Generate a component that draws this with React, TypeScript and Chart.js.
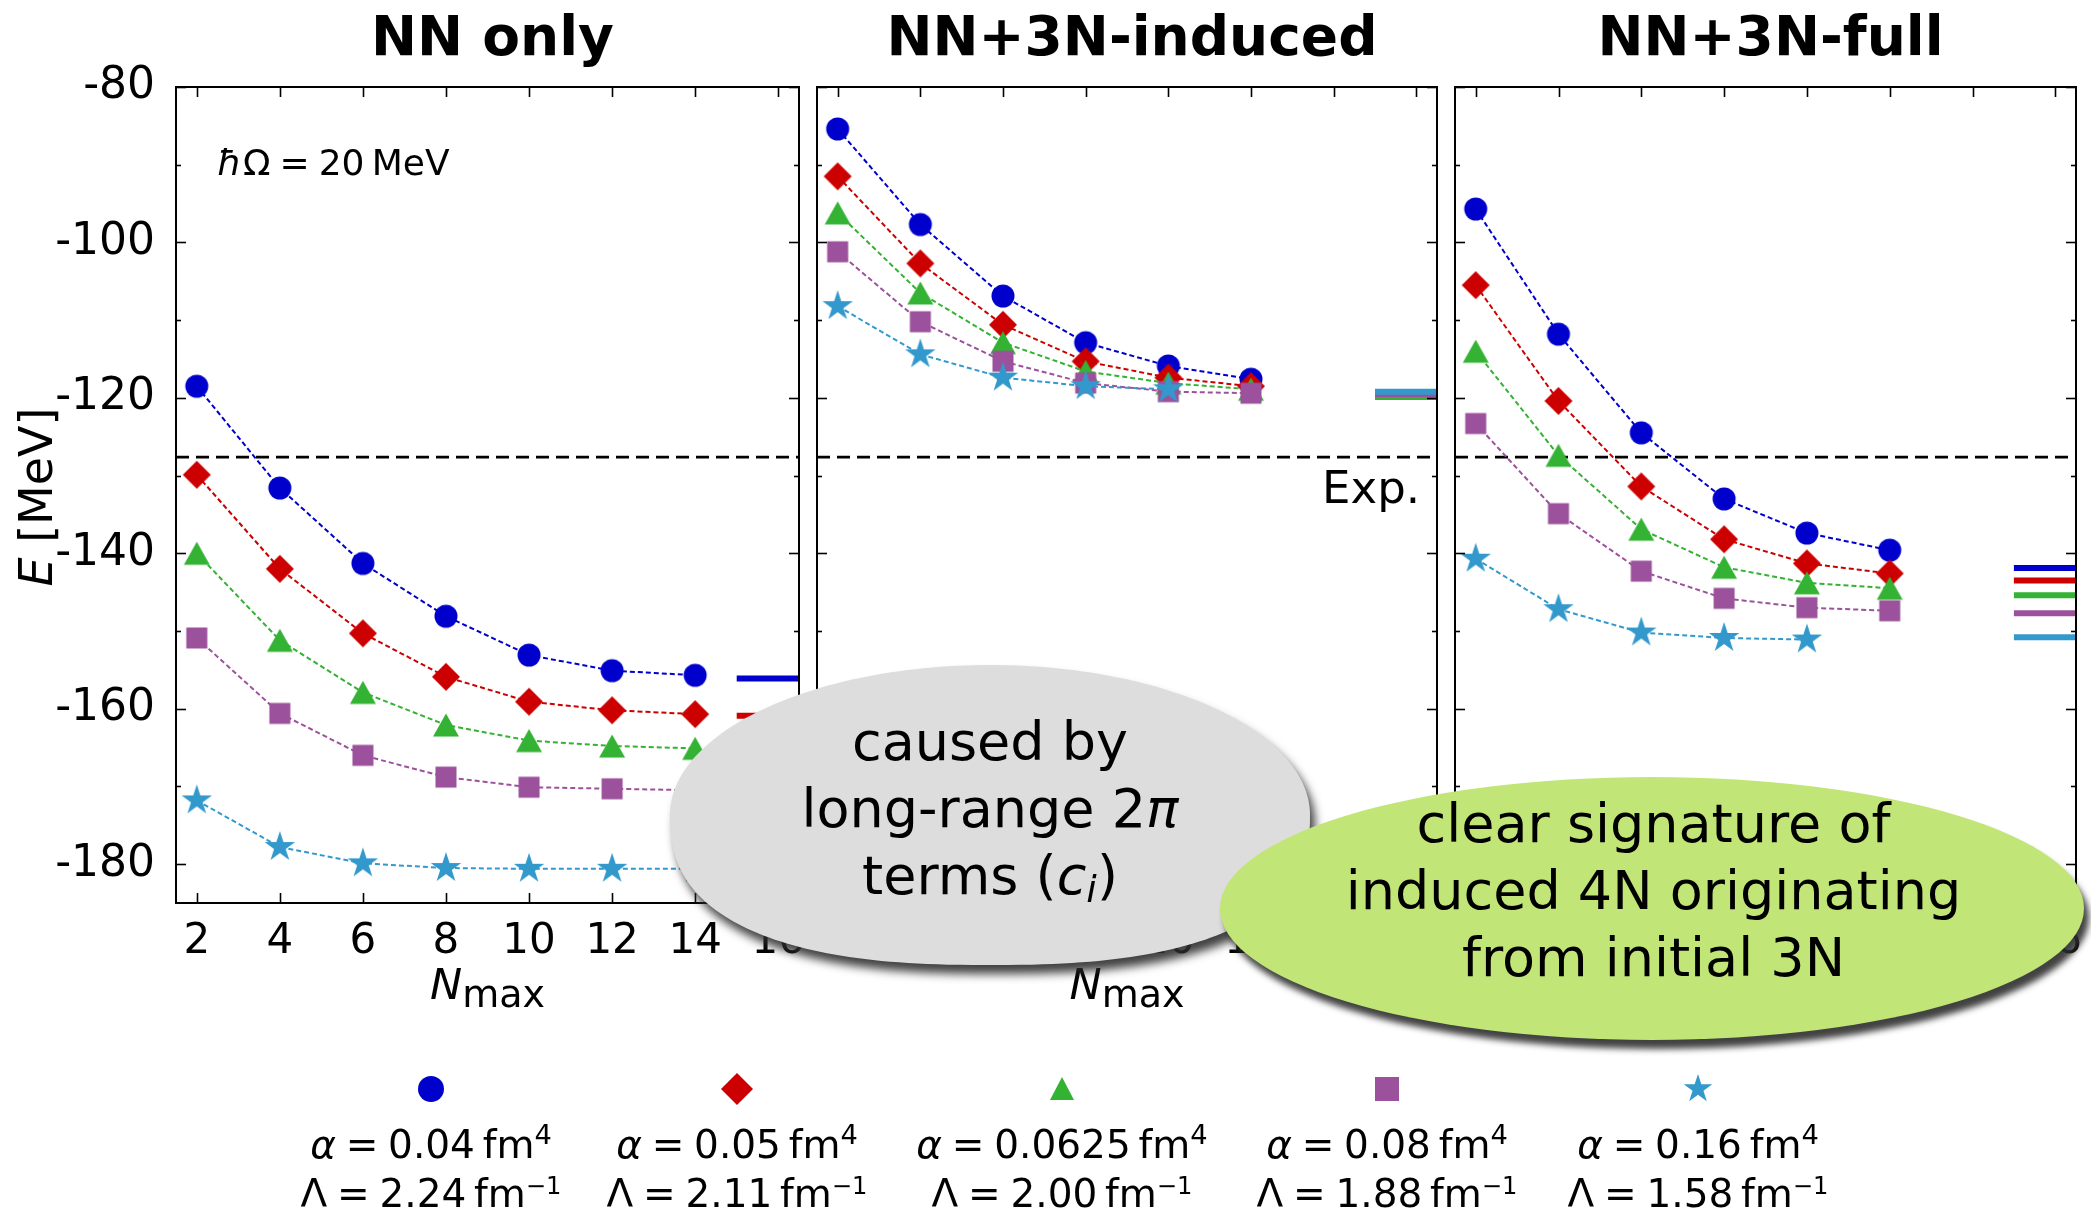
import React, { useEffect, useRef } from 'react';
import { Chart, registerables } from 'chart.js';

Chart.register(...registerables);

const FONT = '"DejaVu Sans", "Liberation Sans", sans-serif';

// ---------------- data ----------------
const nmaxNN = [2, 4, 6, 8, 10, 12, 14];
const nmax3N = [2, 4, 6, 8, 10, 12];
const nmaxStar3N = [2, 4, 6, 8, 10];

const xTicks = [2, 4, 6, 8, 10, 12, 14, 16];
const yTicks = [-180, -160, -140, -120, -100, -80];
const yMinorTicks = [-170, -150, -130, -110, -90];

const expEnergy = -127.62;

// NN only
const nnA004 = [-118.5, -131.6, -141.3, -148.1, -153.1, -155.1, -155.7];
const nnA005 = [-129.9, -142.0, -150.3, -155.9, -159.1, -160.2, -160.7];
const nnA00625 = [-140.0, -151.2, -157.9, -162.1, -164.1, -164.8, -165.1];
const nnA008 = [-150.9, -160.6, -166.0, -168.8, -170.1, -170.3, -170.5];
const nnA016 = [-171.8, -177.8, -179.9, -180.5, -180.6, -180.6, -180.6];
const nnExact = [-156.1, -160.9, -165.4, -170.7, -180.8];

// NN+3N-induced
const indA004 = [-85.4, -97.7, -106.9, -112.9, -115.9, -117.6];
const indA005 = [-91.5, -102.7, -110.6, -115.3, -117.4, -118.5];
const indA00625 = [-96.2, -106.5, -112.9, -116.6, -118.1, -118.9];
const indA008 = [-101.2, -110.2, -115.3, -118.1, -119.2, -119.4];
const indA016 = [-108.2, -114.4, -117.4, -118.5, -118.9];
const indExact = [-119.7, -119.8, -119.9, -119.5, -119.2];

// NN+3N-full
const fullA004 = [-95.7, -111.8, -124.5, -133.0, -137.4, -139.6];
const fullA005 = [-105.5, -120.4, -131.4, -138.2, -141.3, -142.6];
const fullA00625 = [-114.0, -127.4, -136.9, -141.8, -143.8, -144.5];
const fullA008 = [-123.3, -134.9, -142.3, -145.8, -147.0, -147.4];
const fullA016 = [-140.7, -147.2, -150.2, -150.9, -151.1];
const fullExact = [-141.9, -143.5, -145.4, -147.7, -150.8];

const exactRange = [15, 16.5];

const alphaLabels = ['0.04', '0.05', '0.0625', '0.08', '0.16'];
const lambdaLabels = ['2.24', '2.11', '2.00', '1.88', '1.58'];

// ---------------- styles ----------------
const COLORS = ['#0000CC', '#CC0000', '#33B233', '#9B519B', '#3399CC'];
const MARKERS = ['circle', 'diamond', 'triangle', 'square', 'star'];

const PANEL_TOP = 87;
const PANEL_BOTTOM = 903;
const CANVAS_H = 1040;
const X_AXIS_H = 110;

type PanelSpec = {
  title: string;
  left: number;
  right: number;
  xs: number[][];
  series: number[][];
  exact: number[];
  first: boolean;
  showExpLabel: boolean;
};

const PANELS: PanelSpec[] = [
  {
    title: 'NN only', left: 176, right: 803,
    xs: [nmaxNN, nmaxNN, nmaxNN, nmaxNN, nmaxNN],
    series: [nnA004, nnA005, nnA00625, nnA008, nnA016],
    exact: nnExact, first: true, showExpLabel: false,
  },
  {
    title: 'NN+3N-induced', left: 815, right: 1441,
    xs: [nmax3N, nmax3N, nmax3N, nmax3N, nmaxStar3N],
    series: [indA004, indA005, indA00625, indA008, indA016],
    exact: indExact, first: false, showExpLabel: true,
  },
  {
    title: 'NN+3N-full', left: 1453, right: 2080,
    xs: [nmax3N, nmax3N, nmax3N, nmax3N, nmaxStar3N],
    series: [fullA004, fullA005, fullA00625, fullA008, fullA016],
    exact: fullExact, first: false, showExpLabel: false,
  },
];

function makeMarker(kind: string, color: string): HTMLCanvasElement {
  const size = 36;
  const c = document.createElement('canvas');
  c.width = size;
  c.height = size;
  const ctx = c.getContext('2d')!;
  const cx = size / 2;
  const cy = size / 2;
  ctx.fillStyle = color;
  ctx.beginPath();
  if (kind === 'circle') {
    ctx.arc(cx, cy, 11.5, 0, Math.PI * 2);
  } else if (kind === 'diamond') {
    const r = 14;
    ctx.moveTo(cx, cy - r);
    ctx.lineTo(cx + r, cy);
    ctx.lineTo(cx, cy + r);
    ctx.lineTo(cx - r, cy);
  } else if (kind === 'triangle') {
    const w = 13;
    const h = 11.5;
    ctx.moveTo(cx, cy - h);
    ctx.lineTo(cx + w, cy + h);
    ctx.lineTo(cx - w, cy + h);
  } else if (kind === 'square') {
    const h = 10.5;
    ctx.rect(cx - h, cy - h, 2 * h, 2 * h);
  } else {
    const R = 16;
    const r = R * 0.382;
    for (let i = 0; i < 10; i++) {
      const a = -Math.PI / 2 + (i * Math.PI) / 5;
      const rr = i % 2 === 0 ? R : r;
      const px = cx + rr * Math.cos(a);
      const py = cy + rr * Math.sin(a);
      if (i === 0) ctx.moveTo(px, py);
      else ctx.lineTo(px, py);
    }
  }
  ctx.closePath();
  ctx.fill();
  return c;
}

function font(size: number, italic = false, bold = false) {
  return `${italic ? 'italic ' : ''}${bold ? 'bold ' : ''}${size}px ${FONT}`;
}

function makePanelPlugin(spec: PanelSpec) {
  return {
    id: 'panelDecor',
    afterDraw(chart: any) {
      const { ctx, chartArea: a } = chart;
      const xs = chart.scales.x;
      const ys = chart.scales.y;
      ctx.save();
      ctx.strokeStyle = '#000';
      ctx.fillStyle = '#000';
      ctx.lineWidth = 1.6;
      const line = (x1: number, y1: number, x2: number, y2: number) => {
        ctx.beginPath();
        ctx.moveTo(x1, y1);
        ctx.lineTo(x2, y2);
        ctx.stroke();
      };
      xTicks.forEach((v) => {
        const px = Math.round(xs.getPixelForValue(v)) + 0.5;
        line(px, a.bottom, px, a.bottom - 10);
        line(px, a.top, px, a.top + 10);
      });
      yTicks.forEach((v) => {
        const py = Math.round(ys.getPixelForValue(v)) + 0.5;
        line(a.left, py, a.left + 10, py);
        line(a.right, py, a.right - 10, py);
      });
      yMinorTicks.forEach((v) => {
        const py = Math.round(ys.getPixelForValue(v)) + 0.5;
        line(a.left, py, a.left + 5, py);
        line(a.right, py, a.right - 5, py);
      });
      ctx.lineWidth = 2;
      ctx.strokeRect(a.left, a.top, a.right - a.left, a.bottom - a.top);

      const cx = (a.left + a.right) / 2;
      ctx.textAlign = 'center';
      ctx.textBaseline = 'alphabetic';
      ctx.font = font(55, false, true);
      ctx.fillText(spec.title, cx + 5, 55);

      // N_max label
      ctx.textAlign = 'left';
      ctx.font = font(43, true);
      const wN = ctx.measureText('N').width;
      ctx.font = font(38);
      const wMax = ctx.measureText('max').width;
      const start = cx - (wN + wMax) / 2;
      ctx.font = font(43, true);
      ctx.fillText('N', start, 999);
      ctx.font = font(38);
      ctx.fillText('max', start + wN, 1007);

      if (spec.first) {
        ctx.font = font(36, true);
        ctx.fillText('\u0127', 217, 175);
        const wh = ctx.measureText('\u0127').width;
        ctx.font = font(36);
        ctx.fillText('\u03A9\u2005=\u200520\u2009MeV', 217 + wh + 1, 175);
        ctx.save();
        ctx.translate(52, 497);
        ctx.rotate(-Math.PI / 2);
        ctx.font = font(46, true);
        const wE = ctx.measureText('E').width;
        ctx.font = font(46);
        const wRest = ctx.measureText(' [MeV]').width;
        const s0 = -(wE + wRest) / 2;
        ctx.font = font(46, true);
        ctx.fillText('E', s0, 0);
        ctx.font = font(46);
        ctx.fillText(' [MeV]', s0 + wE, 0);
        ctx.restore();
      }
      if (spec.showExpLabel) {
        ctx.font = font(45);
        ctx.textAlign = 'right';
        ctx.fillText('Exp.', a.right - 17, 503);
      }
      ctx.restore();
    },
  };
}

function Panel({ spec }: { spec: PanelSpec }) {
  const ref = useRef<HTMLCanvasElement>(null);
  const canvasLeft = spec.first ? 0 : spec.left - 12;
  const padL = spec.first ? 56 : 12;
  const yW = spec.first ? spec.left - 56 : 0;
  const width = spec.right + 10 - canvasLeft;

  useEffect(() => {
    const canvas = ref.current!;
    const datasets: any[] = [];
    datasets.push({
      data: [
        { x: 1.5, y: expEnergy },
        { x: 16.5, y: expEnergy },
      ],
      showLine: true,
      borderColor: '#000',
      borderWidth: 2.6,
      borderDash: [13, 7],
      pointRadius: 0,
      order: 100,
    });
    spec.exact.forEach((v, i) => {
      datasets.push({
        data: exactRange.map((x) => ({ x, y: v })),
        showLine: true,
        borderColor: COLORS[i],
        borderWidth: 6,
        pointRadius: 0,
        order: 50 - i,
      });
    });
    spec.series.forEach((vals, i) => {
      const img = makeMarker(MARKERS[i], COLORS[i]);
      datasets.push({
        data: spec.xs[i].map((x, j) => ({ x, y: vals[j] })),
        showLine: true,
        borderColor: COLORS[i],
        backgroundColor: COLORS[i],
        borderWidth: 2,
        borderDash: [5, 3],
        pointStyle: img,
        pointRadius: 12,
        pointHoverRadius: 12,
        order: 20 - i,
      });
    });

    const chart = new Chart(canvas, {
      type: 'scatter',
      data: { datasets },
      options: {
        animation: false,
        responsive: false,
        maintainAspectRatio: false,
        devicePixelRatio: 1,
        events: [],
        layout: {
          padding: {
            left: padL,
            right: 10,
            top: PANEL_TOP,
            bottom: CANVAS_H - PANEL_BOTTOM - X_AXIS_H,
          },
        },
        plugins: {
          legend: { display: false },
          tooltip: { enabled: false },
          title: { display: false },
        },
        scales: {
          x: {
            type: 'linear',
            position: 'bottom',
            min: 1.5,
            max: 16.5,
            grid: { display: false },
            border: { display: false },
            afterBuildTicks: (s: any) => {
              s.ticks = xTicks.map((v) => ({ value: v }));
            },
            afterFit: (s: any) => {
              s.height = X_AXIS_H;
            },
            ticks: {
              color: '#000',
              font: { family: FONT, size: 42 },
              padding: 6,
              maxRotation: 0,
              autoSkip: false,
              callback: (v: any) => String(v),
            },
          },
          y: {
            type: 'linear',
            min: -185,
            max: -80,
            grid: { display: false },
            border: { display: false },
            afterBuildTicks: (s: any) => {
              s.ticks = yTicks.map((v) => ({ value: v }));
            },
            afterFit: (s: any) => {
              s.width = yW;
            },
            ticks: {
              display: spec.first,
              color: '#000',
              font: { family: FONT, size: 44 },
              padding: 13,
              callback: (v: any) => String(v),
            },
          },
        },
      } as any,
      plugins: [makePanelPlugin(spec) as any],
    });
    return () => chart.destroy();
  }, []);

  return (
    <canvas
      ref={ref}
      width={width}
      height={CANVAS_H}
      style={{ position: 'absolute', left: canvasLeft, top: 0, width, height: CANVAS_H }}
    />
  );
}

function LegendMarker({ kind, color }: { kind: string; color: string }) {
  const s = 40;
  const c = s / 2;
  let shape: any;
  if (kind === 'circle') shape = <circle cx={c} cy={c} r={13} fill={color} />;
  else if (kind === 'diamond')
    shape = <polygon points={`${c},${c - 16} ${c + 16},${c} ${c},${c + 16} ${c - 16},${c}`} fill={color} />;
  else if (kind === 'triangle')
    shape = <polygon points={`${c},${c - 12} ${c + 12},${c + 11} ${c - 12},${c + 11}`} fill={color} />;
  else if (kind === 'square') shape = <rect x={c - 12} y={c - 12} width={24} height={24} fill={color} />;
  else {
    const R = 15;
    const r = R * 0.382;
    const pts: string[] = [];
    for (let i = 0; i < 10; i++) {
      const a = -Math.PI / 2 + (i * Math.PI) / 5;
      const rr = i % 2 === 0 ? R : r;
      pts.push(`${c + rr * Math.cos(a)},${c + rr * Math.sin(a)}`);
    }
    shape = <polygon points={pts.join(' ')} fill={color} />;
  }
  return (
    <svg width={s} height={s} style={{ display: 'block' }}>
      {shape}
    </svg>
  );
}

// blob: regular ellipse on top half, fuller (superellipse) bottom half
function calloutPath(cx: number, cy: number, a: number, b: number, nTop: number, nBottom: number) {
  const steps = 240;
  const pts: string[] = [];
  for (let i = 0; i < steps; i++) {
    const t = (i / steps) * Math.PI * 2;
    const c = Math.cos(t);
    const s = Math.sin(t);
    const n = s > 0 ? nBottom : nTop;
    const x = cx + a * Math.sign(c) * Math.pow(Math.abs(c), 2 / n);
    const y = cy + b * Math.sign(s) * Math.pow(Math.abs(s), 2 / n);
    pts.push(`${i === 0 ? 'M' : 'L'}${x.toFixed(2)},${y.toFixed(2)}`);
  }
  return pts.join(' ') + ' Z';
}

const LEGEND_CX = [431, 737, 1062, 1387, 1698];
const supStyle: React.CSSProperties = {
  fontSize: '0.7em',
  position: 'relative',
  top: '-0.52em',
  verticalAlign: 'baseline',
  lineHeight: 0,
};

export default function App() {
  const textBase: React.CSSProperties = {
    position: 'absolute',
    fontFamily: FONT,
    color: '#000',
    whiteSpace: 'nowrap',
    textAlign: 'center',
  };
  return (
    <div
      style={{
        position: 'absolute',
        left: 0,
        top: 0,
        width: 2091,
        height: 1212,
        overflow: 'hidden',
        background: '#fff',
      }}
    >
      {PANELS.map((p) => (
        <Panel key={p.title} spec={p} />
      ))}

      {/* grey callout */}
      <svg
        width={2091}
        height={1212}
        style={{
          position: 'absolute',
          left: 0,
          top: 0,
          filter: 'drop-shadow(5px 9px 5px rgba(45,45,45,0.9))',
        }}
      >
        <path d={calloutPath(990, 815, 320, 150, 2, 2.5)} fill="#DDDDDD" />
      </svg>
      <div style={{ ...textBase, left: 670, top: 708, width: 640, fontSize: 54, lineHeight: '67px' }}>
        <div>caused by</div>
        <div>
          long-range 2<i>π</i>
        </div>
        <div>
          terms (<i>c</i>
          <i style={{ fontSize: '0.7em', position: 'relative', top: '0.22em', lineHeight: 0 }}>i</i>)
        </div>
      </div>

      {/* green callout */}
      <div
        style={{
          position: 'absolute',
          left: 1220,
          top: 777,
          width: 864,
          height: 263,
          borderRadius: '50%',
          background: '#C1E677',
          boxShadow: '5px 9px 6px rgba(45,45,45,0.9)',
        }}
      />
      <div style={{ ...textBase, left: 1222, top: 790, width: 863, fontSize: 54, lineHeight: '67px' }}>
        <div>clear signature of</div>
        <div>induced 4N originating</div>
        <div>from initial 3N</div>
      </div>

      {/* legend */}
      {LEGEND_CX.map((cx, i) => (
        <React.Fragment key={i}>
          <div style={{ position: 'absolute', left: cx - 20, top: 1089 - 20 }}>
            <LegendMarker kind={MARKERS[i]} color={COLORS[i]} />
          </div>
          <div style={{ ...textBase, left: cx - 200, width: 400, top: 1125, fontSize: 39, lineHeight: '40px' }}>
            <i>α</i>{'\u2005=\u2005'}{alphaLabels[i]}
            {'\u2009'}fm<span style={supStyle}>4</span>
          </div>
          <div style={{ ...textBase, left: cx - 200, width: 400, top: 1174, fontSize: 39, lineHeight: '40px' }}>
            Λ{'\u2005=\u2005'}{lambdaLabels[i]}
            {'\u2009'}fm<span style={{ ...supStyle, fontSize: '0.62em' }}>−1</span>
          </div>
        </React.Fragment>
      ))}
    </div>
  );
}
